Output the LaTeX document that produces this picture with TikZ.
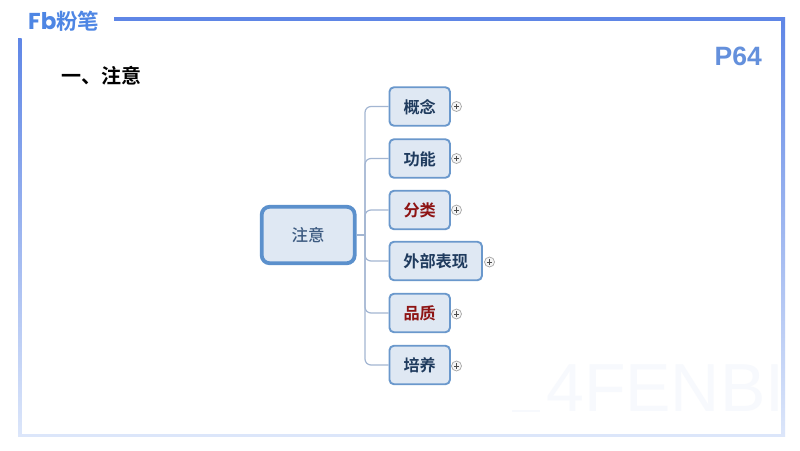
\documentclass[tikz,border=0pt]{standalone}
\usepackage{fontspec}
\setmainfont{Liberation Sans}
\newfontfamily\cjk{Noto Sans CJK SC Medium}
\newfontfamily\cjkb{Noto Sans CJK SC Bold}
\newfontfamily\logofont{Poppins}
\definecolor{framea}{HTML}{5F86E6}
\definecolor{frameb}{HTML}{DCE6FA}
\definecolor{boxfill}{HTML}{DFE8F3}
\definecolor{boxline}{HTML}{6A98CC}
\definecolor{rootline}{HTML}{5B90CC}
\definecolor{linkc}{HTML}{A3B6D2}
\definecolor{navy}{HTML}{1F3B5E}
\definecolor{redtx}{HTML}{8E1414}
\definecolor{roottx}{HTML}{3C5A80}
\definecolor{pnum}{HTML}{6490DC}
\definecolor{logoc}{HTML}{4E86E4}
\definecolor{wmcolor}{HTML}{F7F9FD}
\tikzset{
 topic/.style={draw=boxline,line width=1.9pt,fill=boxfill,rounded corners=4.5pt,minimum height=38.5pt,inner sep=0pt,anchor=west,text height=14pt,text depth=.4pt,font=\cjkb\fontsize{16.2}{17}\selectfont,text=navy},
 shorttopic/.style={topic,minimum width=60.5pt},
 longtopic/.style={topic,minimum width=92.5pt},
 hot/.style={text=redtx},
 rootbox/.style={draw=rootline,line width=3.8pt,fill=boxfill,rounded corners=8pt,minimum width=93pt,minimum height=56.5pt,inner sep=0pt,font=\cjk\fontsize{16.5}{17}\selectfont,text=roottx},
 link/.style={draw=linkc,line width=1.2pt,rounded corners=6pt},
 expander/.style={circle,draw=gray!70,line width=.7pt,fill=gray!8,minimum size=10pt,inner sep=0pt,
   path picture={\draw[black!70,line width=.6pt] (path picture bounding box.center) ++(-2.6pt,0) -- ++(5.2pt,0) (path picture bounding box.center) ++(0,-2.6pt) -- ++(0,5.2pt);}},
}
\begin{document}
\begin{tikzpicture}[x=1pt,y=-1pt]
\useasboundingbox (0,0) rectangle (800,450);
\fill[white] (0,0) rectangle (800,450);
% watermark
\begin{scope}
\clip (21,21) rectangle (782,434);
\fill[wmcolor] (512,409.5) rectangle (540,412);
\node[anchor=base west,text=wmcolor,inner sep=0pt,font=\fontsize{68}{68}\selectfont] (wm) at (546,411) {4FENBI};
\end{scope}
% frame
\fill[framea] (114,17) rectangle (785,20.5);
\shade[top color=framea,bottom color=frameb] (18,38) rectangle (21.5,436);
\shade[top color=framea,bottom color=frameb] (781.5,17) rectangle (785,436);
\fill[frameb] (18,433.5) rectangle (785,437);
% header
\node[anchor=base west,inner sep=0pt,text=logoc,font=\logofont\bfseries\fontsize{23}{23}\selectfont] (fb) at (28,29.5) {Fb};
\node[anchor=base west,inner sep=0pt,text=logoc,font=\cjkb\fontsize{21.5}{22}\selectfont] (brand) at (56,29.5) {粉笔};
\node[anchor=base east,inner sep=0pt,text=pnum,font=\bfseries\fontsize{26.5}{27}\selectfont] (page) at (762,65) {P64};
\node[anchor=base west,inner sep=0pt,text=black,font=\cjkb\fontsize{20}{20}\selectfont] (title) at (61,83.5) {一、注意};
% map
\node[rootbox] (root) at (308.2,235) {注意};
\node[shorttopic] (a) at (388.5,106.5) {概念};
\node[shorttopic] (b) at (388.5,158.5) {功能};
\node[shorttopic,hot] (c) at (388.5,210) {分类};
\node[longtopic] (d) at (388.5,261) {外部表现};
\node[shorttopic,hot] (e) at (388.5,313) {品质};
\node[shorttopic] (f) at (388.5,365) {培养};
\coordinate (trunk) at (365,235);
\draw[link] (root.east) -- (trunk);
\foreach \t in {a,b,c,d,e,f}{\draw[link] (trunk) |- (\t.west);}
\node[expander] (xa) at (456.5,106.5) {};
\node[expander] (xb) at (456.5,158.5) {};
\node[expander] (xc) at (456.5,210) {};
\node[expander] (xd) at (489.5,262) {};
\node[expander] (xe) at (456.5,314) {};
\node[expander] (xf) at (456.5,366) {};
\end{tikzpicture}
\end{document}
